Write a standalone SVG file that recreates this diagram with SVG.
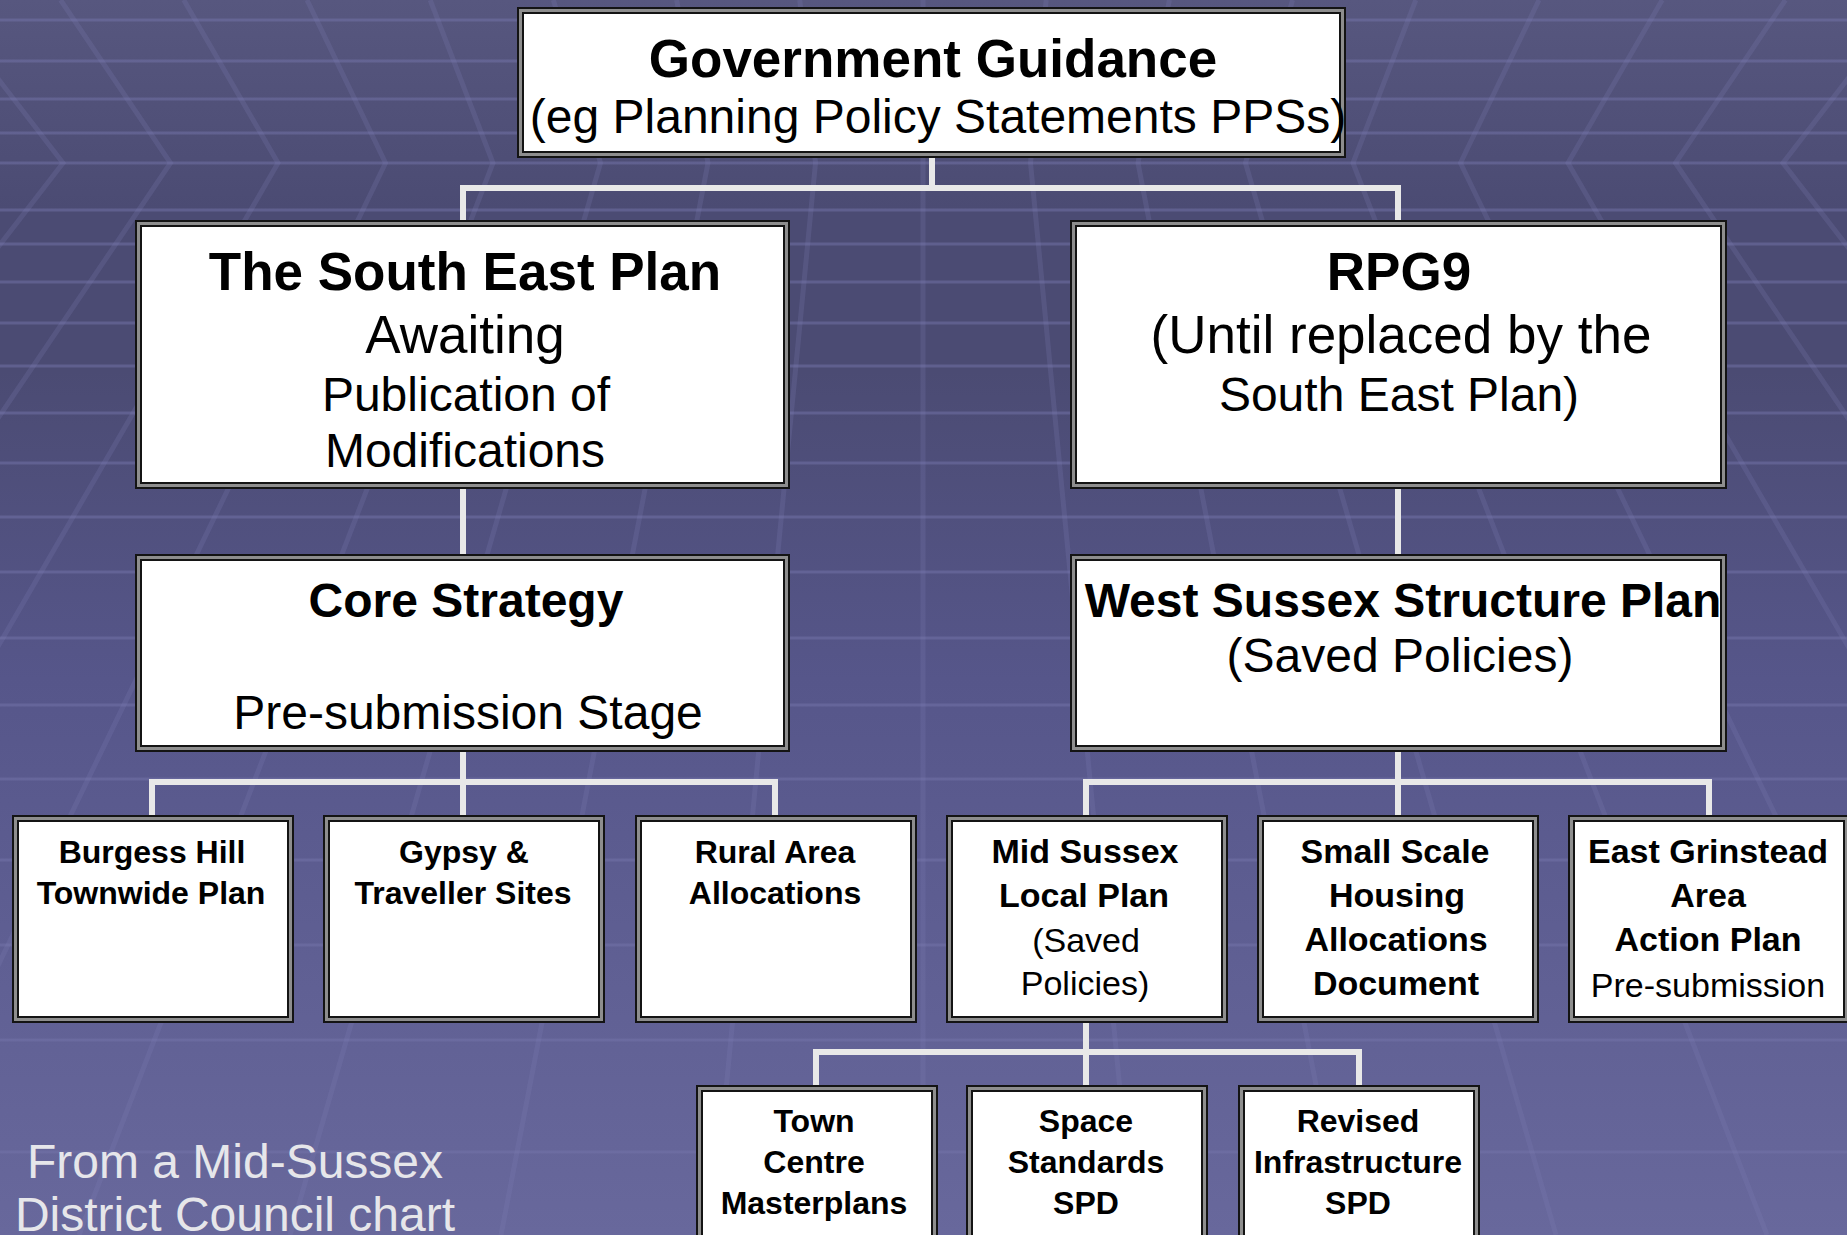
<svg xmlns="http://www.w3.org/2000/svg" width="1847" height="1235" viewBox="0 0 1847 1235">
<defs>
<linearGradient id="bg" x1="0" y1="0" x2="0" y2="1">
<stop offset="0" stop-color="#57577f"/>
<stop offset="0.17" stop-color="#4b4b73"/>
<stop offset="0.3" stop-color="#4b4b73"/>
<stop offset="0.55" stop-color="#56568a"/>
<stop offset="0.8" stop-color="#606094"/>
<stop offset="1" stop-color="#68689c"/>
</linearGradient>
</defs>
<style>
.stripe{stroke:#7474aa;stroke-width:3;opacity:0.5;fill:none}
.diag{stroke:#8080b8;stroke-width:5;opacity:0.22;fill:none}
.bo{fill:#8e8e8e;stroke:#141414;stroke-width:2}
.bi{fill:#ffffff;stroke:#141414;stroke-width:2}
.conn{fill:none;stroke:#e8e8e8;stroke-width:6;stroke-linejoin:miter;stroke-linecap:butt}
text{font-family:"Liberation Sans",Arial,Helvetica,sans-serif;fill:#000;text-anchor:middle}
.b53{font-weight:bold;font-size:53px}
.r53{font-size:53px}
.b48{font-weight:bold;font-size:48px}
.r48{font-size:48px}
.b34{font-weight:bold;font-size:34px}
.r34{font-size:34px}
.b32{font-weight:bold;font-size:32px}
.foot{font-size:48px;fill:#e6e6ea}
</style>
<g id="background">
<rect x="0" y="0" width="1847" height="1235" fill="url(#bg)"/>
<path class="stripe" d="M0,20H1847M0,61H1847M0,99H1847M0,133H1847M0,163H1847M0,210H1847M0,244H1847M0,282H1847M0,323H1847M0,366H1847M0,413H1847M0,463H1847M0,517H1847M0,572H1847M0,638H1847M0,705H1847M0,779H1847M0,860H1847M0,945H1847M0,1040H1847M0,1152H1847"/>
<path class="diag" d="M-62.6,0L63,163L-765,1235M60.6,0L170.5,163L-554,1235M183.8,0L278,163L-343,1235M307,0L385.5,163L-132,1235M430.2,0L493,163L79,1235M553.4,0L600.5,163L290,1235M676.6,0L708,163L501,1235M799.8,0L815.5,163L712,1235M923,0L923,1235M1046.2,0L1030.5,163L1134,1235M1169.4,0L1138,163L1345,1235M1292.6,0L1245.5,163L1556,1235M1415.8,0L1353,163L1767,1235M1539,0L1460.5,163L1978,1235M1662.2,0L1568,163L2189,1235M1785.4,0L1675.5,163L2400,1235M1908.6,0L1783,163L2611,1235"/>
</g>
<g id="connectors">
<path class="conn" d="M932,158V188"/>
<path class="conn" d="M463,221V188H1398V221"/>
<path class="conn" d="M463,489V554"/>
<path class="conn" d="M1398,489V554"/>
<path class="conn" d="M463,752V815"/>
<path class="conn" d="M152,815V782H775V815"/>
<path class="conn" d="M1398,752V815"/>
<path class="conn" d="M1086,815V782H1709V815"/>
<path class="conn" d="M1086,1022V1085"/>
<path class="conn" d="M816,1085V1052H1359V1085"/>
</g>
<g id="n-government">
<rect class="bo" x="518" y="8" width="827" height="149"/>
<rect class="bi" x="523" y="13" width="817" height="139"/>
<text class="b53" x="933" y="77">Government Guidance</text>
<text class="r48" x="938" y="133">(eg Planning Policy Statements PPSs)</text>
</g>
<g id="n-southeast">
<rect class="bo" x="136" y="221" width="653" height="267"/>
<rect class="bi" x="141" y="226" width="643" height="257"/>
<text class="b53" x="465" y="290">The South East Plan</text>
<text class="r53" x="465" y="353">Awaiting</text>
<text class="r48" x="466" y="411">Publication of</text>
<text class="r48" x="465" y="467">Modifications</text>
</g>
<g id="n-rpg9">
<rect class="bo" x="1071" y="221" width="655" height="267"/>
<rect class="bi" x="1076" y="226" width="645" height="257"/>
<text class="b53" x="1399" y="290">RPG9</text>
<text class="r53" x="1401" y="353">(Until replaced by the</text>
<text class="r48" x="1399" y="411">South East Plan)</text>
</g>
<g id="n-core">
<rect class="bo" x="136" y="555" width="653" height="196"/>
<rect class="bi" x="141" y="560" width="643" height="186"/>
<text class="b48" x="466" y="617">Core Strategy</text>
<text class="r48" x="468" y="729">Pre-submission Stage</text>
</g>
<g id="n-westsussex">
<rect class="bo" x="1071" y="555" width="655" height="196"/>
<rect class="bi" x="1076" y="560" width="645" height="186"/>
<text class="b48" x="1403" y="617">West Sussex Structure Plan</text>
<text class="r48" x="1400" y="672">(Saved Policies)</text>
</g>
<g id="n-burgess">
<rect class="bo" x="13" y="816" width="280" height="206"/>
<rect class="bi" x="18" y="821" width="270" height="196"/>
<text class="b32" x="152" y="863">Burgess Hill</text>
<text class="b32" x="151" y="904">Townwide Plan</text>
</g>
<g id="n-gypsy">
<rect class="bo" x="324" y="816" width="280" height="206"/>
<rect class="bi" x="329" y="821" width="270" height="196"/>
<text class="b32" x="464" y="863">Gypsy &amp;</text>
<text class="b32" x="463" y="904">Traveller Sites</text>
</g>
<g id="n-rural">
<rect class="bo" x="636" y="816" width="280" height="206"/>
<rect class="bi" x="641" y="821" width="270" height="196"/>
<text class="b32" x="775" y="863">Rural Area</text>
<text class="b32" x="775" y="904">Allocations</text>
</g>
<g id="n-midsussex">
<rect class="bo" x="947" y="816" width="280" height="206"/>
<rect class="bi" x="952" y="821" width="270" height="196"/>
<text class="b34" x="1085" y="863">Mid Sussex</text>
<text class="b34" x="1084" y="907">Local Plan</text>
<text class="r34" x="1086" y="952">(Saved</text>
<text class="r34" x="1085" y="995">Policies)</text>
</g>
<g id="n-smallscale">
<rect class="bo" x="1258" y="816" width="280" height="206"/>
<rect class="bi" x="1263" y="821" width="270" height="196"/>
<text class="b34" x="1395" y="863">Small Scale</text>
<text class="b34" x="1397" y="907">Housing</text>
<text class="b34" x="1396" y="951">Allocations</text>
<text class="b34" x="1396" y="995">Document</text>
</g>
<g id="n-eastgrinstead">
<rect class="bo" x="1569" y="816" width="280" height="206"/>
<rect class="bi" x="1574" y="821" width="270" height="196"/>
<text class="b34" x="1708" y="863">East Grinstead</text>
<text class="b34" x="1708" y="907">Area</text>
<text class="b34" x="1708" y="951">Action Plan</text>
<text class="r34" x="1708" y="997">Pre-submission</text>
</g>
<g id="n-towncentre">
<rect class="bo" x="697" y="1086" width="240" height="170"/>
<rect class="bi" x="702" y="1091" width="230" height="160"/>
<text class="b32" x="814" y="1132">Town</text>
<text class="b32" x="814" y="1173">Centre</text>
<text class="b32" x="814" y="1214">Masterplans</text>
</g>
<g id="n-spacestandards">
<rect class="bo" x="967" y="1086" width="240" height="170"/>
<rect class="bi" x="972" y="1091" width="230" height="160"/>
<text class="b32" x="1086" y="1132">Space</text>
<text class="b32" x="1086" y="1173">Standards</text>
<text class="b32" x="1086" y="1214">SPD</text>
</g>
<g id="n-infrastructure">
<rect class="bo" x="1239" y="1086" width="240" height="170"/>
<rect class="bi" x="1244" y="1091" width="230" height="160"/>
<text class="b32" x="1358" y="1132">Revised</text>
<text class="b32" x="1358" y="1173">Infrastructure</text>
<text class="b32" x="1358" y="1214">SPD</text>
</g>
<g id="footnote">
<text class="foot" x="235" y="1178">From a Mid-Sussex</text>
<text class="foot" x="235" y="1231">District Council chart</text>
</g>
</svg>
